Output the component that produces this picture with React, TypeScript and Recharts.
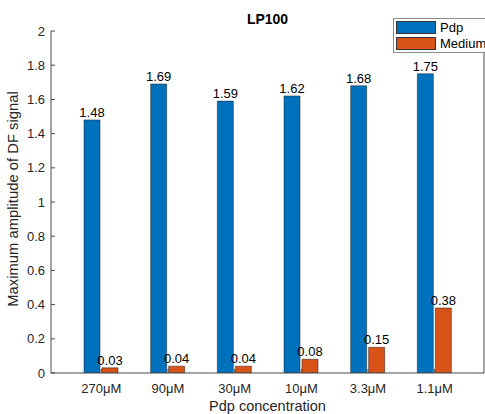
import React from "react";
import {
  BarChart,
  Bar,
  XAxis,
  YAxis,
  LabelList,
  Legend,
  Label,
} from "recharts";

// Pdp concentrations on the x axis
const concentrations = ["270μM", "90μM", "30μM", "10μM", "3.3μM", "1.1μM"];
// Maximum DF signal amplitude for each concentration
const pdpValues = [1.48, 1.69, 1.59, 1.62, 1.68, 1.75];
const mediumValues = [0.03, 0.04, 0.04, 0.08, 0.15, 0.38];
const yTicks = [0, 0.2, 0.4, 0.6, 0.8, 1, 1.2, 1.4, 1.6, 1.8, 2];

const data = concentrations.map((c, i) => ({
  name: c,
  Pdp: pdpValues[i],
  Medium: mediumValues[i],
}));

const BLUE = "#0072BD";
const ORANGE = "#D95319";
const AXIS = "#4a4a4a";
const TEXT = "#262626";
const FONT = "Arial, 'Liberation Sans', Helvetica, sans-serif";

const emptyTick = () => <g />;

const legendItems = [
  { name: "Pdp", color: BLUE },
  { name: "Medium", color: ORANGE },
];

const LegendBox = () => (
  <div
    style={{
      background: "#fff",
      border: "1px solid #8c8c8c",
      padding: "2px 0 2px 2px",
      fontFamily: FONT,
      fontSize: 13,
      color: "#000",
      width: 94,
      boxSizing: "border-box",
    }}
  >
    {legendItems.map((e, i) => (
      <div
        key={e.name}
        style={{
          display: "flex",
          alignItems: "center",
          height: 13,
          marginTop: i === 0 ? 0 : 3,
          whiteSpace: "nowrap",
        }}
      >
        <span
          style={{
            display: "inline-block",
            flexShrink: 0,
            width: 40,
            height: 13,
            background: e.color,
            border: "1px solid #333",
            boxSizing: "border-box",
            marginRight: 4,
          }}
        />
        <span>{e.name}</span>
      </div>
    ))}
  </div>
);

const YLabel = (props: any) => {
  const vb = props.viewBox || {};
  const cy = (vb.y ?? 31) + (vb.height ?? 342) / 2 - 3;
  const x = 18;
  return (
    <text
      x={x}
      y={cy}
      transform={`rotate(-90, ${x}, ${cy})`}
      textAnchor="middle"
      fontFamily={FONT}
      fontSize={14.8}
      fill={TEXT}
    >
      Maximum amplitude of DF signal
    </text>
  );
};

export default function App() {
  return (
    <div style={{ position: "absolute", left: 0, top: 0, background: "#fff" }}>
      <BarChart
        width={485}
        height={414}
        data={data}
        margin={{ top: 31, right: 0, left: 0, bottom: 0 }}
        barSize={16}
        barGap={2}
        style={{ fontFamily: FONT }}
      >
        <text
          x={267.5}
          y={24}
          textAnchor="middle"
          fontFamily={FONT}
          fontSize={14}
          fontWeight="bold"
          fill="#000"
        >
          LP100
        </text>
        <XAxis
          dataKey="name"
          height={41}
          padding={{ left: 17, right: 16 }}
          stroke={AXIS}
          tickSize={-4}
          tickMargin={15}
          tick={{ fill: TEXT, fontSize: 13, fontFamily: FONT }}
          interval={0}
        >
          <Label
            value="Pdp concentration"
            position="insideBottom"
            offset={3}
            fill={TEXT}
            fontSize={14.5}
            fontFamily={FONT}
          />
        </XAxis>
        <XAxis
          xAxisId="top"
          dataKey="name"
          orientation="top"
          height={0}
          padding={{ left: 17, right: 16 }}
          stroke={AXIS}
          tickSize={-4}
          tick={emptyTick}
          interval={0}
        />
        <YAxis
          width={51}
          domain={[0, 2]}
          ticks={yTicks}
          stroke={AXIS}
          tickSize={-4}
          tickMargin={10}
          tick={{ fill: TEXT, fontSize: 13, fontFamily: FONT }}
          interval={0}
          allowDataOverflow
        >
          <Label content={YLabel} />
        </YAxis>
        <YAxis
          yAxisId="right"
          orientation="right"
          width={1}
          domain={[0, 2]}
          ticks={yTicks}
          stroke={AXIS}
          tickSize={-4}
          tick={emptyTick}
          interval={0}
        />
        <Legend
          layout="vertical"
          align="center"
          verticalAlign="middle"
          content={LegendBox}
          wrapperStyle={{ top: 18, left: 393, width: 94 }}
        />
        <Bar
          dataKey="Pdp"
          fill={BLUE}
          stroke="#1f1f1f"
          strokeWidth={0.5}
          isAnimationActive={false}
        >
          <LabelList
            dataKey="Pdp"
            position="top"
            offset={3}
            fill="#000"
            fontSize={13}
            fontFamily={FONT}
          />
        </Bar>
        <Bar
          dataKey="Medium"
          fill={ORANGE}
          stroke="#1f1f1f"
          strokeWidth={0.5}
          isAnimationActive={false}
        >
          <LabelList
            dataKey="Medium"
            position="top"
            offset={3}
            fill="#000"
            fontSize={13}
            fontFamily={FONT}
          />
        </Bar>
      </BarChart>
    </div>
  );
}
